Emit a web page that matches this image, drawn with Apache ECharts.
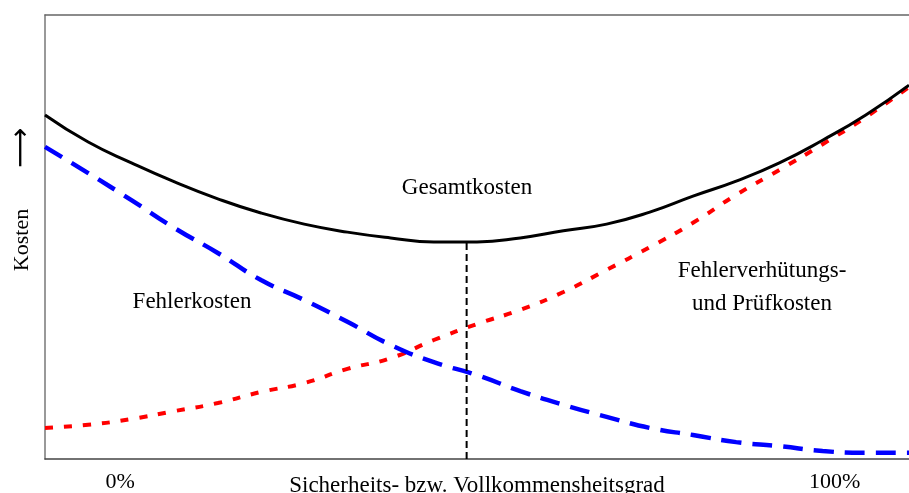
<!DOCTYPE html>
<html>
<head>
<meta charset="utf-8">
<script src="https://cdn.jsdelivr.net/npm/echarts@6/dist/echarts.min.js"></script>
<style>
  html, body { margin: 0; padding: 0; background: #fff; }
  #chart { width: 909px; height: 493px; }
</style>
</head>
<body>
<div id="chart"></div>
<script>
// Sicherheitsgrad (0..100) und Kosten (relativ, 0..100)
const grade = [0, 5, 10, 15, 20, 25, 30, 35, 40, 45, 50, 55, 60, 65, 70, 75, 80, 85, 90, 95, 100]
const gesamtkosten = [77.5, 71.4, 66.7, 62.4, 58.6, 55.4, 52.9, 51.1, 49.8, 48.9, 48.9, 49.8, 51.4, 52.9, 55.6, 59.2, 62.6, 66.7, 71.8, 77.5, 84.2]
const fehlerkosten = [70.3, 64.4, 58.3, 52.0, 46.4, 40.3, 35.8, 30.9, 25.7, 21.8, 18.9, 15.3, 12.2, 9.5, 7.0, 5.4, 3.8, 2.9, 1.8, 1.4, 1.4]
const pruefkosten = [7.0, 7.7, 9.0, 10.8, 12.6, 15.1, 17.1, 20.3, 22.7, 26.8, 30.4, 33.6, 37.6, 42.6, 47.7, 53.2, 59.5, 65.1, 70.9, 77.0, 83.8]
const optimumGrade = 48.8
const optimumCost = 48.9
const tickValues = [8.7, 91.4]
const tickLabels = ['0%', '100%']

const serif = '"Liberation Serif", "DejaVu Serif", serif'
const zip = (xs, ys) => xs.map((x, i) => [x, ys[i]])

const chart = echarts.init(document.getElementById('chart'))
chart.setOption({
  animation: false,
  backgroundColor: '#fff',
  grid: { left: 45, right: 0, top: 15, bottom: 34, outerBoundsMode: 'none' },
  xAxis: [{
    type: 'value',
    min: 0,
    max: 100,
    position: 'bottom',
    name: 'Sicherheits- bzw. Vollkommensheitsgrad',
    nameLocation: 'middle',
    nameGap: 15,
    nameMoveOverlap: false,
    nameTextStyle: { color: '#000', fontFamily: serif, fontSize: 23 },
    axisLine: { lineStyle: { color: '#444', width: 1.5 } },
    axisTick: { show: false },
    splitLine: { show: false },
    axisLabel: {
      customValues: tickValues,
      margin: 12,
      color: '#000',
      fontFamily: serif,
      fontSize: 22,
      formatter: v => tickLabels[tickValues.indexOf(v)]
    }
  }, {
    type: 'value',
    min: 0,
    max: 100,
    position: 'top',
    axisLine: { lineStyle: { color: '#666', width: 1.5 } },
    axisTick: { show: false },
    axisLabel: { show: false },
    splitLine: { show: false }
  }],
  yAxis: {
    type: 'value',
    min: 0,
    max: 100,
    axisLine: { show: true, onZero: false, lineStyle: { color: '#777', width: 1.5 } },
    axisTick: { show: false },
    axisLabel: { show: false },
    splitLine: { show: false }
  },
  series: [
    {
      name: 'Fehlerverhütungs- und Prüfkosten',
      type: 'line',
      smooth: true,
      showSymbol: false,
      data: zip(grade, pruefkosten),
      lineStyle: { color: '#ff0000', width: 4, type: [8, 11] },
      z: 2
    },
    {
      name: 'Fehlerkosten',
      type: 'line',
      smooth: true,
      showSymbol: false,
      data: zip(grade, fehlerkosten),
      lineStyle: { color: '#0000ff', width: 4.5, type: [20, 11] },
      z: 3
    },
    {
      name: 'Gesamtkosten',
      type: 'line',
      smooth: true,
      showSymbol: false,
      data: zip(grade, gesamtkosten),
      lineStyle: { color: '#000', width: 3 },
      z: 4
    },
    {
      name: 'Optimum',
      type: 'line',
      showSymbol: false,
      data: [[optimumGrade, 0], [optimumGrade, optimumCost]],
      lineStyle: { color: '#000', width: 2, type: [7, 4] },
      z: 4
    }
  ],
  graphic: [
    {
      type: 'text',
      x: 22,
      y: 240,
      rotation: Math.PI / 2,
      style: { text: 'Kosten', fill: '#000', font: '22px ' + serif, textAlign: 'center', textVerticalAlign: 'middle' }
    },
    {
      type: 'text',
      x: 22,
      y: 148,
      rotation: Math.PI / 2,
      style: { text: '⟶', fill: '#000', font: '28px "DejaVu Sans", sans-serif', textAlign: 'center', textVerticalAlign: 'middle' }
    },
    {
      type: 'text',
      x: 467,
      y: 188,
      style: { text: 'Gesamtkosten', fill: '#000', font: '23px ' + serif, textAlign: 'center', textVerticalAlign: 'middle' }
    },
    {
      type: 'text',
      x: 192,
      y: 302,
      style: { text: 'Fehlerkosten', fill: '#000', font: '23px ' + serif, textAlign: 'center', textVerticalAlign: 'middle' }
    },
    {
      type: 'text',
      x: 762,
      y: 271,
      style: { text: 'Fehlerverhütungs-', fill: '#000', font: '23px ' + serif, textAlign: 'center', textVerticalAlign: 'middle' }
    },
    {
      type: 'text',
      x: 762,
      y: 304,
      style: { text: 'und Prüfkosten', fill: '#000', font: '23px ' + serif, textAlign: 'center', textVerticalAlign: 'middle' }
    }
  ]
})
</script>
</body>
</html>
